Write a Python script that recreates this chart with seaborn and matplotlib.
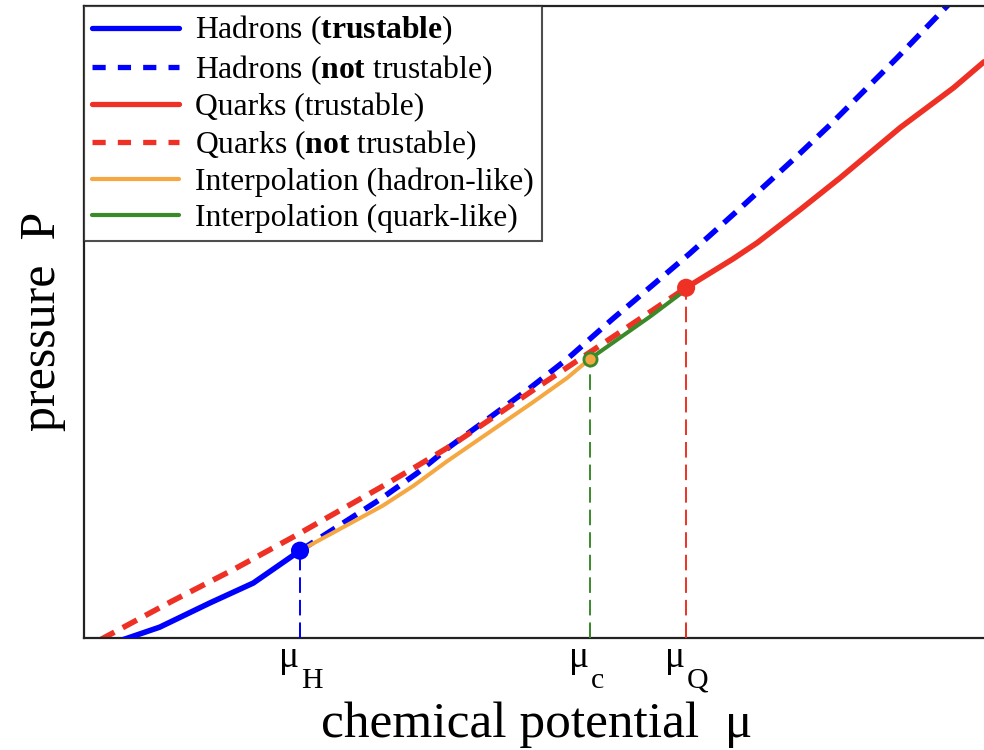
import matplotlib
matplotlib.use("Agg")
import matplotlib.pyplot as plt
from matplotlib.lines import Line2D
import matplotlib.transforms as mtrans
import seaborn as sns
import pandas as pd

# ---- data (arbitrary units) ----
hadron_trust_mu = [0.43, 0.84, 1.40, 1.88, 2.40]
hadron_trust_P = [-0.02, 0.12, 0.39, 0.61, 0.97]

hadron_not_mu = [2.40, 3.29, 3.70, 4.07, 4.51, 4.96, 5.37, 5.88, 6.13, 6.73, 7.32,
                 7.92, 8.29, 9.03, 9.59, 9.90]
hadron_not_P = [0.97, 1.54, 1.83, 2.13, 2.45, 2.78, 3.10, 3.55, 3.76, 4.27, 4.80,
                5.35, 5.70, 6.44, 7.02, 7.35]

quark_not_mu = [0.18, 0.96, 1.66, 2.32, 3.29, 3.70, 4.10, 4.59, 5.03, 5.51, 5.96, 6.69]
quark_not_P = [-0.02, 0.40, 0.76, 1.12, 1.67, 1.91, 2.15, 2.48, 2.78, 3.10, 3.40, 3.89]

quark_trust_mu = [6.69, 7.21, 7.48, 7.96, 8.40, 9.07, 9.66, 10.0]
quark_trust_P = [3.89, 4.21, 4.39, 4.76, 5.11, 5.67, 6.11, 6.40]

interp_h_mu = [2.40, 3.32, 3.66, 4.03, 4.51, 4.99, 5.37, 5.62]
interp_h_P = [0.97, 1.47, 1.69, 1.96, 2.29, 2.62, 2.89, 3.10]

interp_q_mu = [5.62, 6.29, 6.69]
interp_q_P = [3.10, 3.57, 3.87]

mu_H, P_H = 2.40, 0.97
mu_c, P_c = 5.62, 3.10
mu_Q, P_Q = 6.69, 3.89

tick_pos = [mu_H, mu_c, mu_Q]
tick_main = ["\u03bc", "\u03bc", "\u03bc"]
tick_subs = ["H", "c", "Q"]

legend_labels = [
    r"Hadrons ($\mathbf{trustable}$)",
    r"Hadrons ($\mathbf{not}$ trustable)",
    "Quarks (trustable)",
    r"Quarks ($\mathbf{not}$ trustable)",
    "Interpolation (hadron-like)",
    "Interpolation (quark-like)",
]

BLUE = "#0000ff"
RED = "#ee3124"
ORANGE = "#f5a742"
GREEN = "#3a8a2a"

sns.set_theme(style="white")
plt.rcParams["font.family"] = ["Liberation Serif", "DejaVu Serif"]
plt.rcParams["mathtext.fontset"] = "custom"
plt.rcParams["mathtext.rm"] = "Liberation Serif"
plt.rcParams["mathtext.it"] = "Liberation Serif:italic"
plt.rcParams["mathtext.bf"] = "Liberation Serif:bold"
plt.rcParams["text.color"] = "black"
plt.rcParams["axes.labelcolor"] = "black"

fig = plt.figure(figsize=(9.84, 7.5), dpi=100)
ax = fig.add_axes([84 / 984, 112 / 750, 1 - 84 / 984, 632 / 750])

def curve(mu, P, color, lw, dashes=None, z=2):
    df = pd.DataFrame({"mu": mu, "P": P})
    sns.lineplot(data=df, x="mu", y="P", ax=ax, color=color, linewidth=lw,
                 sort=False, estimator=None, zorder=z)
    line = ax.get_lines()[-1]
    if dashes is not None:
        line.set_dashes(dashes)
    line.set_solid_capstyle("round")
    line.set_solid_joinstyle("round")
    line.set_dash_capstyle("butt")

curve(hadron_not_mu, hadron_not_P, BLUE, 4.0, dashes=(2.9, 1.7), z=2)
curve(quark_not_mu, quark_not_P, RED, 4.0, dashes=(2.9, 1.7), z=2.1)
curve(interp_h_mu, interp_h_P, ORANGE, 2.9, z=3)
curve(interp_q_mu, interp_q_P, GREEN, 2.9, z=3)
curve(hadron_trust_mu, hadron_trust_P, BLUE, 4.0, z=4)
curve(quark_trust_mu, quark_trust_P, RED, 4.0, z=4)

# vertical guide lines
for m, p, c in [(mu_H, P_H, BLUE), (mu_c, P_c, GREEN), (mu_Q, P_Q, RED)]:
    ax.plot([m, m], [0, p], color=c, linewidth=1.4, dashes=(8, 3.6), zorder=3)

# markers
mk = pd.DataFrame({"mu": [mu_H, mu_Q], "P": [P_H, P_Q], "c": [BLUE, RED]})
sns.scatterplot(data=mk, x="mu", y="P", ax=ax, hue="c", palette={BLUE: BLUE, RED: RED},
                s=170, linewidth=0, legend=False, zorder=6)
sns.scatterplot(x=[mu_c], y=[P_c], ax=ax, color=ORANGE, edgecolor=GREEN,
                s=90, linewidth=2.0, legend=False, zorder=6)

ax.set_xlim(0, 10)
ax.set_ylim(0, 7.02)
ax.set_xticks(tick_pos)
ax.set_xticklabels([])
ax.set_yticks([])
ax.tick_params(axis="x", bottom=True, direction="in", length=10, width=1.2,
               color="black")
for s in ["left", "bottom", "top"]:
    ax.spines[s].set_color("#222222")
    ax.spines[s].set_linewidth(1.6)
ax.spines["right"].set_visible(False)

# tick labels: mu with a large, low subscript
tr = mtrans.blended_transform_factory(ax.transData, fig.transFigure)
for x, m, sub in zip(tick_pos, tick_main, tick_subs):
    ax.text(x - 0.01, (750 - 667) / 750, m, transform=tr, fontsize=27, ha="right",
            va="baseline", clip_on=False)
    ax.text(x + 0.01, (750 - 688) / 750, sub, transform=tr, fontsize=21.5,
            ha="left", va="baseline", clip_on=False)

ax.set_xlabel("chemical potential  \u03bc", fontsize=37)
ax.xaxis.label.set_va("baseline")
ax.xaxis.set_label_coords((537 - 84) / 900, (638 - 737) / 632)
ax.set_ylabel("pressure  P", fontsize=36)
ax.yaxis.label.set_va("baseline")
ax.yaxis.set_label_coords((55 - 84) / 900, (638 - 321) / 632)

handles = [
    Line2D([], [], color=BLUE, lw=3.8),
    Line2D([], [], color=BLUE, lw=3.8, dashes=(2.5, 2.3)),
    Line2D([], [], color=RED, lw=3.8),
    Line2D([], [], color=RED, lw=3.8, dashes=(2.5, 2.3)),
    Line2D([], [], color=ORANGE, lw=3.0),
    Line2D([], [], color=GREEN, lw=3.0),
]
leg = ax.legend(handles, legend_labels, loc="upper left", bbox_to_anchor=(0, 1),
                borderaxespad=0, fontsize=22.8, frameon=True, fancybox=False,
                handlelength=2.75, handletextpad=0.5, borderpad=0.25,
                labelspacing=0.19)
leg.get_frame().set_edgecolor("#222222")
leg.get_frame().set_linewidth(1.5)
leg.set_zorder(10)
for t in leg.get_texts():
    t.set_color("black")

fig.savefig("out.png", dpi=100)
